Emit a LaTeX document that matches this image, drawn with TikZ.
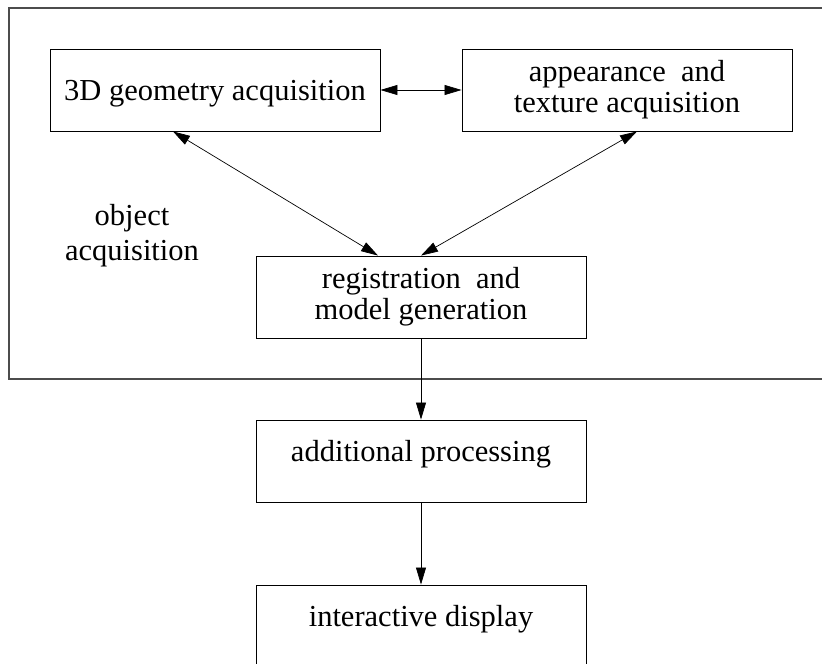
\documentclass[tikz,border=0pt]{standalone}
\usepackage{fontspec}
\setmainfont{Liberation Serif}
\usetikzlibrary{arrows.meta}

\begin{document}
\begin{tikzpicture}[x=1pt,y=-1pt,
  box/.style={draw,line width=0.9pt,minimum width=330pt,minimum height=82pt,inner sep=0pt,align=center,font=\fontsize{30.5}{31}\selectfont},
  lowtext/.style={text height=41pt,text depth=41pt},
  midtext/.style={text height=51pt,text depth=31pt},
  link/.style={line width=0.7pt,-{Triangle[length=17pt,width=10pt]}},
  both/.style={line width=0.7pt,{Triangle[length=17pt,width=10pt]}-{Triangle[length=17pt,width=10pt]}}]
\useasboundingbox (0,0) rectangle (822,664);
\draw[line width=1.3pt,black!70] (9,8) rectangle (834,379);
\node[box,midtext] (geo) at (215,90) {3D geometry acquisition};
\node[box] (app) at (627,90) {appearance\ \ and\\texture acquisition};
\node[box] (reg) at (421,297) {registration\ \ and\\model generation};
\node[box,lowtext] (proc) at (421,461) {additional processing};
\node[box,lowtext] (disp) at (421,626) {interactive display};
\node[align=center,font=\fontsize{30.5}{35}\selectfont] (obj) at (132,236) {object\\acquisition};
\draw[both] (geo) -- (app);
\draw[both] ([xshift=-42pt]geo.south) -- ([xshift=-43pt]reg.north);
\draw[both] ([xshift=10pt]app.south) -- (reg.north);
\draw[link] (reg) -- (proc);
\draw[link] (proc) -- (disp);
\end{tikzpicture}
\end{document}
